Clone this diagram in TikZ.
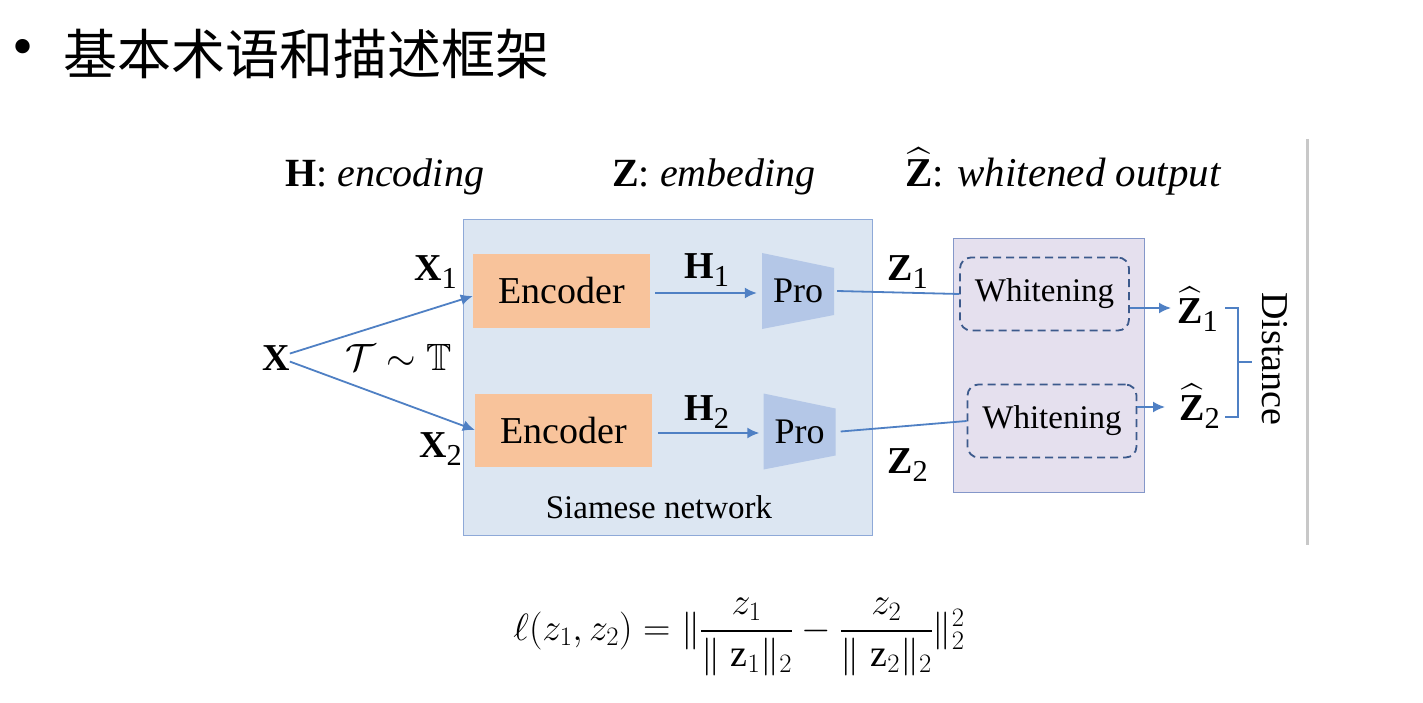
\RequirePackage{fix-cm}
\documentclass[tikz,border=0pt]{standalone}
\usepackage{amsmath}
\usepackage{amssymb}
\usepackage{fontspec}
\setmainfont{Liberation Serif}
\newfontfamily\cjk{Noto Sans CJK SC}
\usetikzlibrary{arrows.meta}
\usetikzlibrary{positioning}
\definecolor{mblue}{HTML}{4F80C4}
\definecolor{morange}{HTML}{F8C39B}
\definecolor{sfill}{HTML}{DCE6F2}
\definecolor{sdraw}{HTML}{8EA9D8}
\definecolor{profill}{HTML}{B4C7E7}
\definecolor{wfill}{HTML}{E5E0EE}
\definecolor{wdraw}{HTML}{8497C9}
\definecolor{mdash}{HTML}{3C5A8C}
\definecolor{mgray}{HTML}{C8C8C8}
\newcommand{\bvec}[2]{#1\raisebox{-0.22em}{\scalebox{0.8}{#2}}}
\newcommand{\hatZ}{$\widehat{\text{\textbf{Z}}}$}

\begin{document}
\begin{tikzpicture}[x=1pt, y=-1pt,
    link/.style={mblue, line width=1.8pt},
    flow/.style={link, -{Latex[length=12pt,width=11pt]}},
    lbl/.style={font=\fontsize{38}{42}\selectfont, inner sep=0pt},
    encbox/.style={fill=morange, minimum width=177pt, minimum height=73pt, font=\fontsize{38}{42}\selectfont},
    probox/.style={minimum width=72pt, minimum height=76pt, inner sep=0pt, font=\fontsize{36}{40}\selectfont,
      path picture={\fill[profill] (path picture bounding box.north west) -- ([yshift=-15pt]path picture bounding box.north east)
        -- ([yshift=14pt]path picture bounding box.south east) -- (path picture bounding box.south west) -- cycle;}},
    whitebox/.style={draw=mdash, dashed, dash pattern=on 8pt off 5pt, line width=1.8pt, rounded corners=11pt,
      minimum width=169pt, minimum height=73pt, font=\fontsize{33}{36}\selectfont}]
  \useasboundingbox (0,0) rectangle (1423,703);
  \fill[white] (0,0) rectangle (1423,703);

  % title
  \node[inner sep=0pt, font=\fontsize{60}{64}\selectfont] (dot) at (23,53) {\textbullet};
  \node[anchor=west, inner sep=0pt, font=\fontsize{54}{60}\selectfont\cjk] (title) at (63,54) {基本术语和描述框架};

  % headings
  \node[lbl, anchor=base west, font=\fontsize{40}{44}\selectfont] (hdh) at (285,187) {\textbf{H}: \textit{encoding}};
  \node[lbl, anchor=base west, font=\fontsize{40}{44}\selectfont] (hdz) at (612,187) {\textbf{Z}: \textit{embeding}};
  \node[lbl, anchor=base west, font=\fontsize{41}{44}\selectfont] (hdw) at (905,187) {\hatZ: \textit{whitened output}};

  % boxes
  \node[draw=sdraw, fill=sfill, line width=1pt, minimum width=409pt, minimum height=315pt] (siam) at (667.5,377.5) {};
  \node[draw=wdraw, fill=wfill, line width=1pt, minimum width=191pt, minimum height=253pt] (wbox) at (1048.5,365.5) {};
  \node[lbl, anchor=base, font=\fontsize{33}{36}\selectfont] (siamlbl) at (659,518) {Siamese network};

  \node[encbox] (enc1) at (561.5,291) {Encoder};
  \node[encbox] (enc2) at (563.5,430) {Encoder};
  \node[probox] (pro1) at (798,291) {Pro};
  \node[probox] (pro2) at (799.5,431.5) {Pro};
  \node[whitebox] (w1) at (1044.5,294) {Whitening};
  \node[whitebox] (w2) at (1052,421) {Whitening};

  % labels
  \node[lbl, anchor=base west] (xin) at (262,370) {\textbf{X}};
  \node[lbl, anchor=base west] (tt) at (345,370) {$\mathcal{T}\sim\mathbb{T}$};
  \node[lbl, anchor=base west] (x1) at (414,280) {\bvec{\textbf{X}}{1}};
  \node[lbl, anchor=base west] (x2) at (419,457) {\bvec{\textbf{X}}{2}};
  \node[lbl, anchor=base west] (h1) at (684,278) {\bvec{\textbf{H}}{1}};
  \node[lbl, anchor=base west] (h2) at (684,420) {\bvec{\textbf{H}}{2}};
  \node[lbl, anchor=base west] (z1) at (887,280) {\bvec{\textbf{Z}}{1}};
  \node[lbl, anchor=base west] (z2) at (887,473) {\bvec{\textbf{Z}}{2}};
  \node[lbl, anchor=base west] (hz1) at (1177,323) {\bvec{\hatZ}{1}};
  \node[lbl, anchor=base west] (hz2) at (1179,420) {\bvec{\hatZ}{2}};
  \node[lbl, rotate=-90] (dist) at (1275,359) {Distance};

  % connectors
  \draw[flow] ([yshift=4pt]xin.east) -- ([yshift=-5pt]enc1.west);
  \draw[flow] ([yshift=-4pt]xin.east) -- (enc2.west);
  \draw[flow] ([xshift=5pt,yshift=-2pt]enc1.east) -- ([xshift=-5pt,yshift=-2pt]enc1.east -| pro1.west);
  \draw[flow] ([xshift=6pt,yshift=-3pt]enc2.east) -- ([xshift=-4pt,yshift=-3pt]enc2.east -| pro2.west);
  \draw[link] ([xshift=3pt]pro1.east) -- (w1.west);
  \draw[link] ([xshift=5pt]pro2.east) -- (w2.west);
  \draw[flow] ([yshift=-14pt]w1.east) -- ([xshift=-6pt,yshift=-14pt]w1.east -| hz1.west);
  \draw[flow] ([yshift=14pt]w2.east) -- ([xshift=-14pt,yshift=14pt]w2.east -| hz2.west);

  % bracket
  \coordinate (brtop) at (1225,308);
  \coordinate (brbot) at (1225,417);
  \coordinate (brmid) at (1238,362);
  \draw[link, line width=1.6pt] (brtop) -- ++(13,0) -- ([xshift=13pt]brbot) -- (brbot);
  \draw[link, line width=1.6pt] (brmid) -- ++(14,0);

  % divider
  \draw[mgray, line width=3pt] (1307,139) -- (1307,545);

  % loss
  \node[inner sep=0pt, font=\fontsize{38}{42}\selectfont] (loss) at (739,637)
    {$\ell(z_1,z_2)=\|\dfrac{z_1}{\|\;\mathrm{z}_1\|_2}-\dfrac{z_2}{\|\;\mathrm{z}_2\|_2}\|_2^2$};
\end{tikzpicture}
\end{document}
